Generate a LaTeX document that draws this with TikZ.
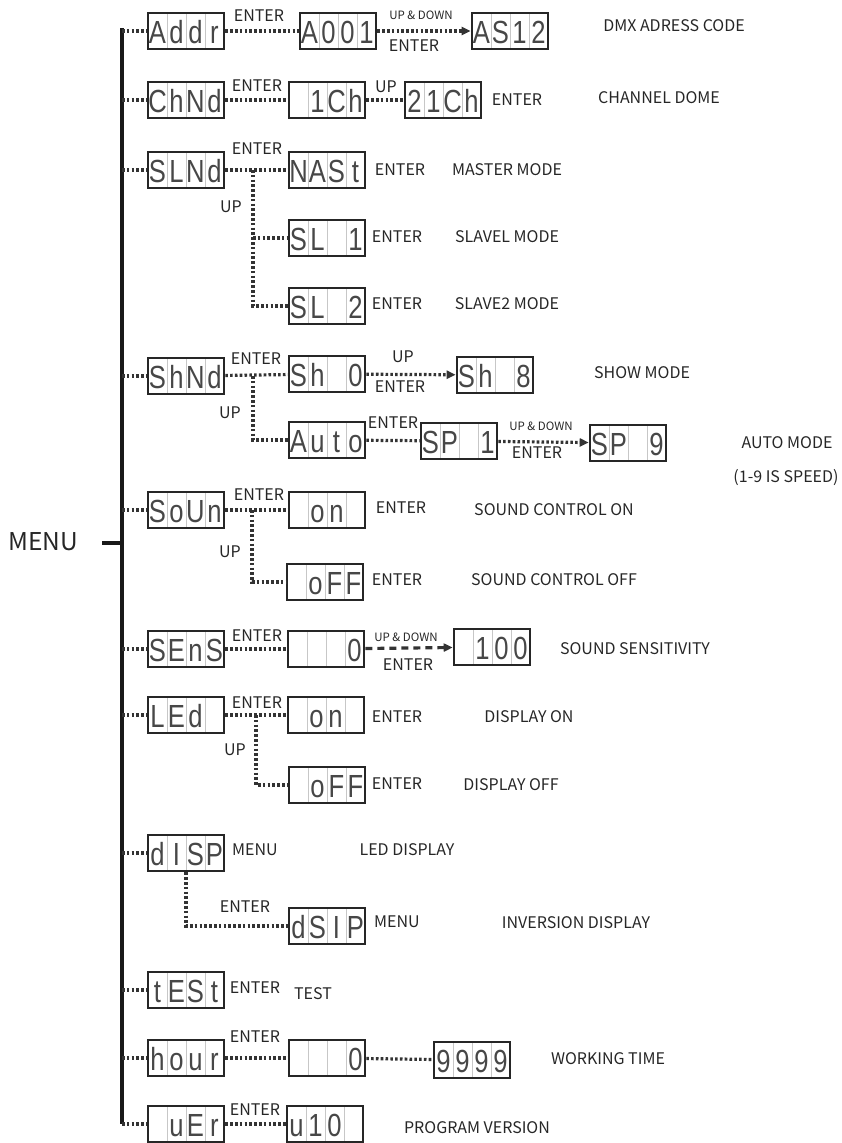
\documentclass[tikz,border=0pt]{standalone}
\usepackage{fontspec}
\setmainfont{Noto Sans CJK SC}
\newfontfamily\lcdfont[FakeStretch=0.8]{Liberation Sans}
\usetikzlibrary{arrows.meta}

\def \barX{122}
\def \barTopY{28}
\def \barBottomY{1124}
\def \colMenuX{186}
\def \colSubX{327}
\def \rowAddrY{31}
\def \rowChY{100}
\def \rowSlY{170}
\def \rowSlAY{238}
\def \rowSlBY{306}
\def \rowShY{376}
\def \rowAutoY{440}
\def \rowSndY{510}
\def \rowSndOffY{582}
\def \rowSensY{649}
\def \rowLedY{715}
\def \rowLedOffY{785}
\def \rowDispY{853}
\def \rowDsipY{926}
\def \rowTestY{990}
\def \rowHourY{1058}
\def \rowVerY{1124}

\newcommand\cells[4]{\makebox[19pt]{#1}\makebox[19pt]{#2}\makebox[19pt]{#3}\makebox[19pt]{#4}}

\tikzset{
  lcd/.style={draw=black!85, line width=2.6pt, minimum width=76pt, minimum height=36pt,
    inner sep=0pt, text=black!72, text height=25pt, text depth=1pt,
    font=\lcdfont\fontsize{32}{32}\selectfont,
    path picture={\foreach \k in {19,38,57}
      \draw[black!22, line width=0.8pt] ([xshift=\k pt]path picture bounding box.south west) -- ([xshift=\k pt]path picture bounding box.north west);}},
  lbl/.style={inner sep=1pt, text=black!85, font=\fontsize{16}{18}\selectfont},
  keylbl/.style={lbl, font=\fontsize{11.5}{13}\selectfont},
  trunk/.style={line width=3.6pt, black!90},
  link/.style={line width=3.2pt, black!80, dash pattern=on 2.6pt off 2.2pt},
  flow/.style={link, -{Triangle[length=9pt,width=8pt]}},
  dashflow/.style={line width=3.2pt, black!80, dash pattern=on 7pt off 5pt, -{Triangle[length=9pt,width=8pt]}},
}

\begin{document}
\begin{tikzpicture}[x=1pt, y=-1pt]
\useasboundingbox (0,0) rectangle (841,1143);

% ---- Menu trunk
\coordinate (barTop) at (\barX, \barTopY);
\coordinate (barBottom) at (\barX, \barBottomY);
\coordinate (menuTick) at (102, 543);
\node [lbl, font=\fontsize{24.5}{26}\selectfont] (menu) at (43, 542) {MENU};
\draw [trunk] (barTop) -- (barBottom);
\draw [trunk] (menuTick) -- (menuTick -| barTop);

% ---- Addr
\node [lcd] (addr) at (\colMenuX, \rowAddrY) {\cells{A}{d}{d}{r}};
\node [lcd] (addrVal) at (338, \rowAddrY) {\cells{A}{0}{0}{1}};
\node [lcd] (addrMax) at (510, \rowAddrY) {\cells{A}{S}{1}{2}};
\node [lbl] (addrEnter) at (259, 16) {ENTER};
\node [keylbl] (addrUpDown) at (421, 15) {UP \& DOWN};
\node [lbl] (addrEnterB) at (414, 46) {ENTER};
\node [lbl] (addrText) at (674, 26) {DMX ADRESS CODE};
\draw [link] (addr) -- (addrVal);
\draw [flow] (addrVal) -- (addrMax);

% ---- Channel
\node [lcd] (chnd) at (\colMenuX, \rowChY) {\cells{C}{h}{N}{d}};
\node [lcd] (chVal) at (\colSubX, \rowChY) {\cells{}{1}{C}{h}};
\node [lcd] (chMax) at (443, \rowChY) {\cells{2}{1}{C}{h}};
\node [lbl] (chEnter) at (257, 86) {ENTER};
\node [lbl] (chUp) at (386, 87) {UP};
\node [lbl] (chEnterB) at (517, 100) {ENTER};
\node [lbl] (chText) at (659, 98) {CHANNEL DOME};
\draw [link] (chnd) -- (chVal);
\draw [link] (chVal) -- (chMax);

% ---- Slave
\node [lcd] (slnd) at (\colMenuX, \rowSlY) {\cells{S}{L}{N}{d}};
\node [lcd] (mast) at (\colSubX, \rowSlY) {\cells{N}{A}{S}{t}};
\node [lcd] (slA) at (\colSubX, \rowSlAY) {\cells{S}{L}{}{1}};
\node [lcd] (slB) at (\colSubX, \rowSlBY) {\cells{S}{L}{}{2}};
\coordinate (slJoint) at (253, \rowSlY);
\node [lbl] (slEnter) at (257, 149) {ENTER};
\node [lbl] (slUp) at (231, 207) {UP};
\node [lbl] (mastEnter) at (400, 170) {ENTER};
\node [lbl] (mastText) at (507, 170) {MASTER MODE};
\node [lbl] (slAEnter) at (397, 237) {ENTER};
\node [lbl] (slAText) at (507, 237) {SLAVEL MODE};
\node [lbl] (slBEnter) at (397, 304) {ENTER};
\node [lbl] (slBText) at (507, 304) {SLAVE2 MODE};
\draw [link] (slnd) -- (mast);
\draw [link] (slJoint) |- (slB.west);
\draw [link] (slJoint |- slA) -- (slA.west);

% ---- Show
\node [lcd] (shnd) at (\colMenuX, \rowShY) {\cells{S}{h}{N}{d}};
\node [lcd] (shVal) at (\colSubX, 374) {\cells{S}{h}{}{0}};
\node [lcd] (shMax) at (495, 375) {\cells{S}{h}{}{8}};
\coordinate (shJoint) at (253, \rowShY);
\node [lbl] (shEnter) at (256, 359) {ENTER};
\node [lbl] (shUp) at (403, 357) {UP};
\node [lbl] (shEnterB) at (400, 387) {ENTER};
\node [lbl] (shText) at (642, 373) {SHOW MODE};
\draw [link] (shnd) -- (shVal);
\draw [flow] (shVal) -- (shMax);

% ---- Auto
\node [lcd] (auto) at (\colSubX, \rowAutoY) {\cells{A}{u}{t}{o}};
\node [lcd] (spVal) at (459, 441) {\cells{S}{P}{}{1}};
\node [lcd] (spMax) at (628, 443) {\cells{S}{P}{}{9}};
\node [lbl] (autoUp) at (230, 413) {UP};
\node [lbl] (autoEnter) at (393, 423) {ENTER};
\node [keylbl] (autoUpDown) at (541, 426) {UP \& DOWN};
\node [lbl] (autoEnterB) at (537, 453) {ENTER};
\node [lbl] (autoText) at (787, 443) {AUTO MODE};
\node [lbl] (speedText) at (786, 478) {(1-9 IS SPEED)};
\draw [link] (shJoint) |- (auto.west);
\draw [link] (auto) -- (spVal);
\draw [flow] (spVal) -- (spMax);

% ---- Sound
\node [lcd] (soun) at (\colMenuX, \rowSndY) {\cells{S}{o}{U}{n}};
\node [lcd] (sndOn) at (\colSubX, \rowSndY) {\cells{}{o}{n}{}};
\node [lcd] (sndOff) at (325, \rowSndOffY) {\cells{}{o}{F}{F}};
\coordinate (sndJoint) at (252, \rowSndY);
\node [lbl] (sndEnter) at (259, 495) {ENTER};
\node [lbl] (sndUp) at (230, 552) {UP};
\node [lbl] (sndOnEnter) at (401, 508) {ENTER};
\node [lbl] (sndOnText) at (554, 510) {SOUND CONTROL ON};
\node [lbl] (sndOffEnter) at (397, 580) {ENTER};
\node [lbl] (sndOffText) at (554, 580) {SOUND CONTROL OFF};
\draw [link] (soun) -- (sndOn);
\draw [link] (sndJoint) |- (sndOff.west);

% ---- Sensitivity
\node [lcd] (sens) at (\colMenuX, \rowSensY) {\cells{S}{E}{n}{S}};
\node [lcd] (sensVal) at (326, \rowSensY) {\cells{}{}{}{0}};
\node [lcd] (sensMax) at (492, 647) {\cells{}{1}{0}{0}};
\node [lbl] (sensEnter) at (257, 636) {ENTER};
\node [keylbl] (sensUpDown) at (406, 637) {UP \& DOWN};
\node [lbl] (sensEnterB) at (408, 665) {ENTER};
\node [lbl] (sensText) at (635, 649) {SOUND SENSITIVITY};
\draw [link] (sens) -- (sensVal);
\draw [dashflow] (sensVal) -- (sensMax);

% ---- Led
\node [lcd] (led) at (\colMenuX, \rowLedY) {\cells{L}{E}{d}{}};
\node [lcd] (ledOn) at (326, \rowLedY) {\cells{}{o}{n}{}};
\node [lcd] (ledOff) at (\colSubX, \rowLedOffY) {\cells{}{o}{F}{F}};
\coordinate (ledJoint) at (256, \rowLedY);
\node [lbl] (ledEnter) at (257, 703) {ENTER};
\node [lbl] (ledUp) at (235, 750) {UP};
\node [lbl] (ledOnEnter) at (397, 717) {ENTER};
\node [lbl] (ledOnText) at (529, 717) {DISPLAY ON};
\node [lbl] (ledOffEnter) at (397, 784) {ENTER};
\node [lbl] (ledOffText) at (511, 785) {DISPLAY OFF};
\draw [link] (led) -- (ledOn);
\draw [link] (ledJoint) |- (ledOff.west);

% ---- Display
\node [lcd] (disp) at (\colMenuX, \rowDispY) {\cells{d}{I}{S}{P}};
\node [lcd] (dsip) at (\colSubX, \rowDsipY) {\cells{d}{S}{I}{P}};
\node [lbl] (dispMenu) at (255, 850) {MENU};
\node [lbl] (dispText) at (407, 850) {LED DISPLAY};
\node [lbl] (dsipEnter) at (245, 907) {ENTER};
\node [lbl] (dsipMenu) at (397, 922) {MENU};
\node [lbl] (dsipText) at (576, 923) {INVERSION DISPLAY};
\draw [link] (disp.south) |- (dsip.west);

% ---- Test
\node [lcd] (test) at (\colMenuX, \rowTestY) {\cells{t}{E}{S}{t}};
\node [lbl] (testEnter) at (255, 988) {ENTER};
\node [lbl] (testText) at (313, 994) {TEST};

% ---- Hour
\node [lcd] (hour) at (\colMenuX, \rowHourY) {\cells{h}{o}{u}{r}};
\node [lcd] (hourVal) at (\colSubX, \rowHourY) {\cells{}{}{}{0}};
\node [lcd] (hourMax) at (472, 1060) {\cells{9}{9}{9}{9}};
\node [lbl] (hourEnter) at (255, 1037) {ENTER};
\node [lbl] (hourText) at (608, 1059) {WORKING TIME};
\draw [link] (hour) -- (hourVal);
\draw [link] (hourVal) -- (hourMax);

% ---- Version
\node [lcd] (ver) at (\colMenuX, \rowVerY) {\cells{}{u}{E}{r}};
\node [lcd] (verVal) at (325, \rowVerY) {\cells{u}{1}{0}{}};
\node [lbl] (verEnter) at (255, 1110) {ENTER};
\node [lbl] (verText) at (477, 1128) {PROGRAM VERSION};
\draw [link] (ver) -- (verVal);

% ---- Spokes from trunk
\foreach \n in {addr, chnd, slnd, shnd, soun, sens, led, disp, test, hour, ver}
  \draw [link] (\n -| barTop) -- (\n.west);
\end{tikzpicture}
\end{document}
